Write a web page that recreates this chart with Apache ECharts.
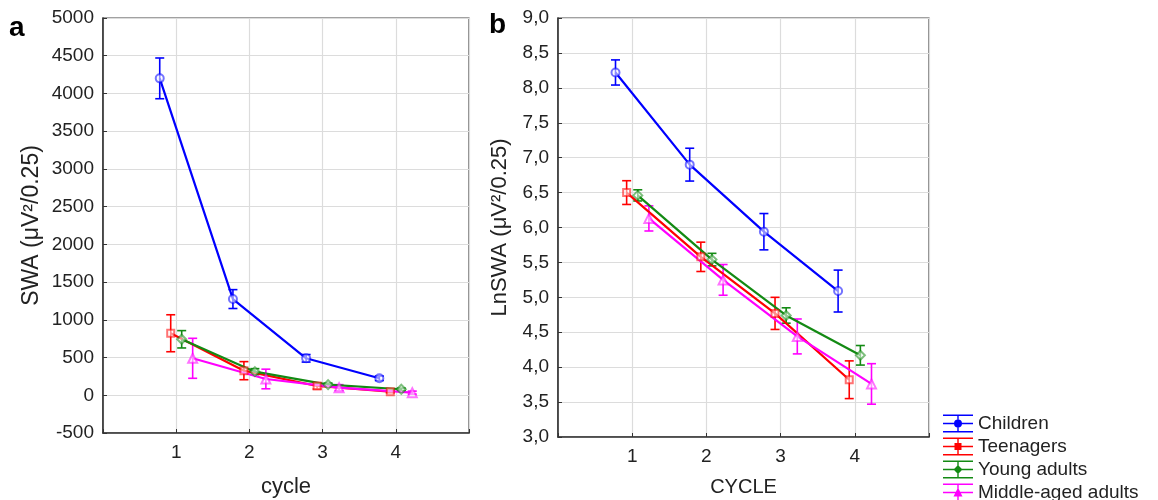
<!DOCTYPE html>
<html>
<head>
<meta charset="utf-8">
<script src="https://cdn.jsdelivr.net/npm/echarts@6/dist/echarts.min.js"></script>
<style>
html,body{margin:0;padding:0;background:#fff;}
#chart{width:1158px;height:500px;}
</style>
</head>
<body>
<div id="chart"></div>
<script>
// ---------- DATA ----------
const cycles = [1, 2, 3, 4];
const groups = ['Children', 'Teenagers', 'Young adults', 'Middle-aged adults'];

// panel a: SWA (µV²/0.25), mean and half-length of error bar
const swaChildren = [4200, 1275, 490, 225];
const swaChildrenErr = [270, 125, 50, 30];
const swaTeenagers = [822, 326, 123, 48];
const swaTeenagersErr = [245, 120, 40, 15];
const swaYoungAdults = [742, 313, 141, 80];
const swaYoungAdultsErr = [115, 40, 20, 15];
const swaMiddleAged = [490, 216, 101, 35];
const swaMiddleAgedErr = [265, 130, 40, 20];

// panel b: LnSWA
const lnChildren = [8.22, 6.90, 5.94, 5.09];
const lnChildrenErr = [0.18, 0.235, 0.26, 0.30];
const lnTeenagers = [6.50, 5.58, 4.77, 3.82];
const lnTeenagersErr = [0.17, 0.21, 0.23, 0.27];
const lnYoungAdults = [6.46, 5.54, 4.74, 4.17];
const lnYoungAdultsErr = [0.08, 0.09, 0.11, 0.14];
const lnMiddleAged = [6.13, 5.25, 4.44, 3.76];
const lnMiddleAgedErr = [0.18, 0.22, 0.25, 0.29];

const xTickLabels = ['1', '2', '3', '4'];

// ---------- STYLE / LAYOUT ----------
const colors = ['#0000ff', '#ff0000', '#138a13', '#ff00ff'];
const symbols = ['emptyCircle', 'emptyRect', 'emptyDiamond', 'emptyTriangle'];
const symbolSizes = [8, 7, 9, 9];
const dodge = [-0.225, -0.075, 0.075, 0.225];
const FONT = '"Liberation Sans", Arial, sans-serif';

const swaMeans = [swaChildren, swaTeenagers, swaYoungAdults, swaMiddleAged];
const swaErrs = [swaChildrenErr, swaTeenagersErr, swaYoungAdultsErr, swaMiddleAgedErr];
const lnMeans = [lnChildren, lnTeenagers, lnYoungAdults, lnMiddleAged];
const lnErrs = [lnChildrenErr, lnTeenagersErr, lnYoungAdultsErr, lnMiddleAgedErr];

function errRenderer(color) {
  return function (params, api) {
    const x = api.value(0), lo = api.value(1), hi = api.value(2);
    const p1 = api.coord([x, hi]);
    const p2 = api.coord([x, lo]);
    const hw = 4.5;
    const style = { stroke: color, lineWidth: 1.6, fill: null };
    return {
      type: 'group',
      children: [
        { type: 'line', shape: { x1: p1[0], y1: p1[1], x2: p2[0], y2: p2[1] }, style: style },
        { type: 'line', shape: { x1: p1[0] - hw, y1: p1[1], x2: p1[0] + hw, y2: p1[1] }, style: style },
        { type: 'line', shape: { x1: p2[0] - hw, y1: p2[1], x2: p2[0] + hw, y2: p2[1] }, style: style }
      ]
    };
  };
}

const series = [];
function addPanel(means, errs, axisIdx) {
  groups.forEach(function (g, i) {
    series.push({
      name: g + ' error',
      type: 'custom',
      xAxisIndex: axisIdx, yAxisIndex: axisIdx,
      renderItem: errRenderer(colors[i]),
      encode: { x: 0, y: [1, 2] },
      data: cycles.map(function (c, k) {
        return [c + dodge[i], means[i][k] - errs[i][k], means[i][k] + errs[i][k]];
      }),
      z: 2
    });
  });
  groups.forEach(function (g, i) {
    series.push({
      name: g,
      type: 'line',
      xAxisIndex: axisIdx, yAxisIndex: axisIdx,
      data: cycles.map(function (c, k) { return [c + dodge[i], means[i][k]]; }),
      symbol: symbols[i],
      symbolSize: symbolSizes[i],
      showSymbol: true,
      lineStyle: { color: colors[i], width: 2.2 },
      itemStyle: { color: colors[i], borderColor: colors[i], borderWidth: 1.2, opacity: 0.55 },
      emphasis: { disabled: true },
      animation: false,
      z: 3
    });
  });
}
addPanel(swaMeans, swaErrs, 0);
addPanel(lnMeans, lnErrs, 1);

const base = 'M0,0H30V1.4H0Z M0,8.3H30V9.7H0Z M0,16.6H30V18H0Z M14.3,0H15.7V18H14.3Z ';
const iconShapes = [
  'M11,9A4,4 0 1 1 19,9A4,4 0 1 1 11,9Z',
  'M11.5,5.5H18.5V12.5H11.5Z',
  'M15,4.5L19.5,9L15,13.5L10.5,9Z',
  'M15,4L19.5,13L10.5,13Z'
];

function xAxisCfg(idx, name, nameSize, gap) {
  return {
    gridIndex: idx, type: 'value', min: 0, max: 5, interval: 1,
    name: name, nameLocation: 'middle', nameGap: gap,
    nameTextStyle: { fontFamily: FONT, fontSize: nameSize, color: '#222' },
    axisLine: { onZero: false, lineStyle: { color: '#333', width: 1.6 } },
    axisTick: { show: true, inside: true, length: 4, lineStyle: { color: '#333' } },
    axisLabel: {
      fontFamily: FONT, fontSize: 19, color: '#222', margin: 10,
      formatter: function (v) { const i = cycles.indexOf(v); return i >= 0 ? xTickLabels[i] : ''; }
    },
    splitLine: { show: true, lineStyle: { color: '#dcdcdc', width: 1.2 } }
  };
}
function yAxisCfg(idx, name, nameSize, min, max, interval, gap, fmt) {
  return {
    gridIndex: idx, type: 'value', min: min, max: max, interval: interval,
    name: name, nameLocation: 'middle', nameGap: gap,
    nameTextStyle: { fontFamily: FONT, fontSize: nameSize, color: '#222' },
    axisLine: { onZero: false, lineStyle: { color: '#333', width: 1.6 } },
    axisTick: { show: true, inside: true, length: 4, lineStyle: { color: '#333' } },
    axisLabel: { fontFamily: FONT, fontSize: 19, color: '#222', margin: 9, formatter: fmt },
    splitLine: { show: true, lineStyle: { color: '#dcdcdc', width: 1.2 } }
  };
}

const option = {
  backgroundColor: '#fff',
  animation: false,
  grid: [
    { left: 103, top: 18, width: 366, height: 415, show: true, borderColor: '#444', borderWidth: 1.2, backgroundColor: 'transparent', outerBoundsMode: 'none', containLabel: false },
    { left: 558, top: 18, width: 371, height: 419, show: true, borderColor: '#444', borderWidth: 1.2, backgroundColor: 'transparent', outerBoundsMode: 'none', containLabel: false }
  ],
  xAxis: [
    xAxisCfg(0, 'cycle', 22, 43),
    xAxisCfg(1, 'CYCLE', 20, 40)
  ],
  yAxis: [
    yAxisCfg(0, 'SWA (μV²/0.25)', 23, -500, 5000, 500, 60, function (v) { return String(v); }),
    yAxisCfg(1, 'LnSWA (μV²/0.25)', 22, 3, 9, 0.5, 47, function (v) { return v.toFixed(1).replace('.', ','); })
  ],
  legend: {
    orient: 'vertical',
    left: 938, top: 409, height: 200, width: 220,
    itemWidth: 30, itemHeight: 18, itemGap: 4,
    textStyle: { fontFamily: FONT, fontSize: 19, color: '#222' },
    data: groups.map(function (g, i) {
      return { name: g, icon: 'path://' + base + iconShapes[i], itemStyle: { color: colors[i], borderWidth: 0, opacity: 1 } };
    }),
    selectedMode: false
  },
  graphic: [
    { type: 'text', left: 9, top: 14, style: { text: 'a', font: 'bold 28px ' + FONT, fill: '#000' } },
    { type: 'text', left: 489, top: 11, style: { text: 'b', font: 'bold 28px ' + FONT, fill: '#000' } }
  ],
  series: series
};

const chart = echarts.init(document.getElementById('chart'), null, { renderer: 'canvas' });
chart.setOption(option);
</script>
</body>
</html>
